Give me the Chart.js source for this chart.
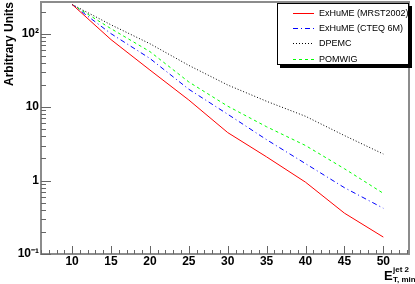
<!DOCTYPE html>
<html>
<head>
<meta charset="utf-8">
<script src="https://cdn.jsdelivr.net/npm/chart.js@4/dist/chart.umd.min.js"></script>
<style>
html, body { margin: 0; padding: 0; background: #fff; }
#wrap { width: 415px; height: 284px; }
</style>
</head>
<body>
<div id="wrap"><canvas id="chart"></canvas></div>
<script>
// E_T,min of the 2nd jet (GeV)
const etMin = [10, 15, 20, 25, 30, 35, 40, 45, 50];
// cross sections, arbitrary units
const mrst2002 = [250, 83, 32, 12.5, 4.5, 2.1, 0.95, 0.36, 0.17];
const cteq6m   = [250, 100, 46, 17.5, 8.0, 3.6, 1.7, 0.8, 0.42];
const dpemc    = [250, 132, 73, 37, 20, 12, 7.5, 4.1, 2.3];
const pomwig   = [250, 117, 57, 22, 10.3, 5.4, 3.0, 1.45, 0.67];
const seriesNames = ['ExHuME (MRST2002)', 'ExHuME (CTEQ 6M)', 'DPEMC', 'POMWIG'];
const xTickLabels = ['10', '15', '20', '25', '30', '35', '40', '45', '50'];
const yTickValues = [0.1, 1, 10, 100];
const yTickLabels = ['10\u207B\u00B9', '1', '10', '10\u00B2'];

// line styles
const seriesColors = ['#ff0000', '#0000ff', '#000000', '#00ff00'];
const seriesDashes = [[], [5, 3, 1, 3], [1, 2], [3, 3]];

const FONT = "'Liberation Sans', Arial, Helvetica, sans-serif";

function toPoints(arr) {
  return arr.map((v, i) => ({ x: etMin[i], y: v }));
}

// legend sample drawn as filled 1px pieces
function sampleLine(c, x0, x1, y, dash, color) {
  c.fillStyle = color;
  if (!dash.length) {
    c.fillRect(x0, y, x1 - x0, 1);
    return;
  }
  let x = x0, k = 0;
  while (x < x1) {
    const len = dash[k % dash.length];
    if (k % 2 == 0) c.fillRect(x, y, Math.min(len, x1 - x), 1);
    x += len;
    k++;
  }
}

const ctx = document.getElementById('chart');

// ROOT-like frame, inward ticks, legend box and axis titles
const rootStyle = {
  id: 'rootStyle',
  afterDraw(chart) {
    const c = chart.ctx;
    const a = chart.chartArea;
    const xs = chart.scales.x;
    const ys = chart.scales.y;
    c.save();

    // frame
    c.strokeStyle = '#8c8c8c';
    c.lineWidth = 2;
    c.strokeRect(a.left, a.top, a.right - a.left, a.bottom - a.top);

    // ticks
    c.strokeStyle = '#666';
    c.lineWidth = 1;
    c.beginPath();
    for (let v = Math.ceil(xs.min); v <= xs.max; v++) {
      const px = Math.round(xs.getPixelForValue(v)) + 0.5;
      const len = v % 5 == 0 ? 8 : 4;
      c.moveTo(px, a.bottom);
      c.lineTo(px, a.bottom - len);
    }
    for (let d = 0.1; d < ys.max; d *= 10) {
      for (let m = 1; m < 10; m++) {
        const v = d * m;
        if (v < ys.min || v > ys.max) continue;
        const py = Math.round(ys.getPixelForValue(v)) + 0.5;
        const len = m == 1 ? 10 : 5;
        c.moveTo(a.left, py);
        c.lineTo(a.left + len, py);
      }
    }
    c.stroke();

    // legend
    const bw = 132, bh = 62;
    const bx = Math.round(a.right - bw), by = Math.round(a.top + 1);
    c.fillStyle = '#000';
    c.fillRect(bx + 3, by + 3, bw, bh);
    c.fillStyle = '#fff';
    c.fillRect(bx, by, bw, bh);
    c.strokeStyle = '#000';
    c.lineWidth = 1;
    c.strokeRect(bx + 0.5, by + 0.5, bw - 1, bh - 1);
    c.font = '9px ' + FONT;
    c.textBaseline = 'middle';
    c.textAlign = 'left';
    for (let i = 0; i < seriesNames.length; i++) {
      const yy = Math.round(by + 10 + i * 15.2);
      sampleLine(c, bx + 16, bx + 37, yy, seriesDashes[i], seriesColors[i]);
      c.fillStyle = '#000';
      c.fillText(seriesNames[i], bx + 42, yy + 0.5);
    }

    // x title  E_{T, min}^{jet 2}
    c.fillStyle = '#000';
    c.textBaseline = 'alphabetic';
    c.font = 'bold 13px ' + FONT;
    c.fillText('E', 384, 280);
    c.font = 'bold 8px ' + FONT;
    c.fillText('jet 2', 393, 272);
    c.fillText('T, min', 393, 282);

    // y title
    c.translate(13, 2);
    c.rotate(-Math.PI / 2);
    c.textAlign = 'right';
    c.font = 'bold 12px ' + FONT;
    c.fillText('Arbitrary Units', 0, 0);

    c.restore();
  }
};

new Chart(ctx, {
  type: 'line',
  data: {
    datasets: seriesNames.map((name, i) => ({
      label: name,
      data: toPoints([mrst2002, cteq6m, dpemc, pomwig][i]),
      borderColor: seriesColors[i],
      borderDash: seriesDashes[i],
      borderWidth: 1
    }))
  },
  options: {
    responsive: true,
    maintainAspectRatio: false,
    animation: false,
    elements: { point: { radius: 0 }, line: { tension: 0 } },
    layout: { padding: { top: 2, right: 6, left: 0, bottom: 0 } },
    plugins: {
      legend: { display: false },
      tooltip: { enabled: false }
    },
    scales: {
      x: {
        type: 'linear',
        min: 6,
        max: 53.3,
        grid: { display: false, drawTicks: false },
        border: { display: false },
        afterBuildTicks: (scale) => {
          scale.ticks = xTickLabels.map(t => ({ value: Number(t) }));
        },
        afterFit: (scale) => {
          scale.height = 30;
          scale.paddingLeft = 0;
          scale.paddingRight = 0;
        },
        ticks: {
          autoSkip: false,
          maxRotation: 0,
          padding: 0,
          color: '#000',
          font: { family: FONT, size: 12, weight: 'bold' },
          callback: (v) => String(v)
        }
      },
      y: {
        type: 'logarithmic',
        min: 0.1,
        max: 270,
        grid: { display: false, drawTicks: false },
        border: { display: false },
        afterBuildTicks: (scale) => {
          scale.ticks = yTickValues.map(v => ({ value: v }));
        },
        afterFit: (scale) => {
          scale.width = 41;
          scale.paddingTop = 0;
          scale.paddingBottom = 0;
        },
        ticks: {
          autoSkip: false,
          padding: 2,
          color: '#000',
          font: { family: FONT, size: 12, weight: 'bold' },
          callback: (v) => yTickLabels[yTickValues.indexOf(v)]
        }
      }
    }
  },
  plugins: [rootStyle]
});
</script>
</body>
</html>
